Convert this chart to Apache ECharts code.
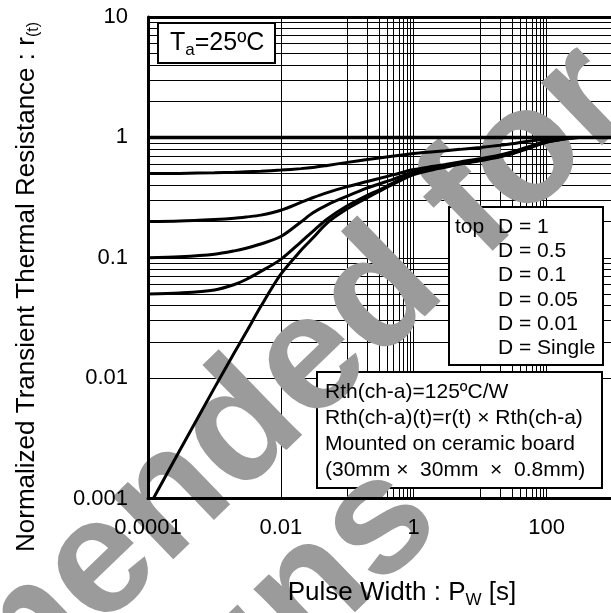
<!DOCTYPE html>
<html><head><meta charset="utf-8">
<script src="https://cdn.jsdelivr.net/npm/echarts@6/dist/echarts.min.js"></script>
<style>html,body{margin:0;padding:0;background:#fff}#c{width:611px;height:613px}</style>
</head><body><div id="c"></div>
<script>
// ---- data ----
const pulseWidth = [0.0001, 0.0003, 0.001, 0.002, 0.003, 0.005, 0.01, 0.02, 0.03, 0.05, 0.1, 0.2, 0.3, 0.5, 1, 2, 3, 5, 10, 20, 30, 50, 100, 200, 300, 1000];
const rD1     = [1,1,1,1,1,1,1,1,1,1,1,1,1,1,1,1,1,1,1,1,1,1,1,1,1,1];
const rD05    = [0.50, 0.502, 0.508, 0.513, 0.518, 0.524, 0.535, 0.55, 0.562, 0.585, 0.62, 0.655, 0.675, 0.70, 0.735, 0.76, 0.775, 0.795, 0.825, 0.86, 0.885, 0.925, 0.97, 1.0, 1.0, 1.0];
const rD01    = [0.20, 0.202, 0.208, 0.213, 0.218, 0.226, 0.248, 0.288, 0.315, 0.348, 0.39, 0.43, 0.455, 0.49, 0.54, 0.575, 0.595, 0.625, 0.665, 0.715, 0.755, 0.825, 0.93, 0.99, 1.0, 1.0];
const rD005   = [0.10, 0.102, 0.107, 0.114, 0.12, 0.13, 0.15, 0.198, 0.235, 0.275, 0.325, 0.38, 0.41, 0.45, 0.515, 0.56, 0.583, 0.612, 0.655, 0.705, 0.745, 0.82, 0.92, 0.985, 1.0, 1.0];
const rD001   = [0.05, 0.051, 0.054, 0.06, 0.066, 0.077, 0.097, 0.135, 0.165, 0.21, 0.27, 0.33, 0.365, 0.42, 0.50, 0.55, 0.575, 0.605, 0.645, 0.695, 0.735, 0.81, 0.915, 0.98, 1.0, 1.0];
const rSingle = [0.00083, 0.0025, 0.0083, 0.0163, 0.024, 0.0395, 0.073, 0.115, 0.145, 0.195, 0.255, 0.315, 0.355, 0.41, 0.49, 0.54, 0.565, 0.60, 0.64, 0.69, 0.73, 0.80, 0.91, 0.975, 1.0, 1.0];

const xTickLabels = ['0.0001', '0.01', '1', '100'];
const yTickLabels = ['0.001', '0.01', '0.1', '1', '10'];
const xGridValues = [0.001,0.002,0.003,0.004,0.005,0.006,0.007,0.008,0.009,0.01,
                     0.1,0.2,0.3,0.4,0.5,0.6,0.7,0.8,0.9,1,
                     10,20,30,40,50,60,70,80,90,100];
const yGridValues = [0.002,0.003,0.004,0.005,0.006,0.007,0.008,0.009,0.01,
                     0.02,0.03,0.04,0.05,0.06,0.07,0.08,0.09,0.1,
                     0.2,0.3,0.4,0.5,0.6,0.7,0.8,0.9,
                     2,3,4,5,6,7,8,9];
const legendHead = 'top';
const legendLines = ['D = 1', 'D = 0.5', 'D = 0.1', 'D = 0.05', 'D = 0.01', 'D = Single'];
const noteLines = ['Rth(ch-a)=125ºC/W', 'Rth(ch-a)(t)=r(t) × Rth(ch-a)', 'Mounted on ceramic board', '(30mm ×  30mm  ×  0.8mm)'];
const watermarkLines = ['Not Recommended for', 'New Designs'];

// ---- chart ----
const FONT = '"Liberation Sans", Arial, sans-serif';
function pairs(vals) { return pulseWidth.map((t, i) => [t, vals[i]]); }
function labelFor(list) {
  return function (v) {
    const e = Math.round(Math.log10(v));
    const s = list.find(l => Math.round(Math.log10(parseFloat(l))) === e);
    return s || '';
  };
}
function curve(name, vals, w) {
  return {
    name: name, type: 'line', data: pairs(vals), z: 5, symbol: 'none', showSymbol: false,
    smooth: 0.3, clip: true, silent: true,
    lineStyle: { color: '#000', width: w }, emphasis: { disabled: true }
  };
}
const chart = echarts.init(document.getElementById('c'), null, { renderer: 'canvas' });
const boxStyle = { fill: '#fff', stroke: '#000', lineWidth: 2 };
const wmFont = 'bold 165px "Liberation Sans", Arial, sans-serif';
chart.setOption({
  animation: false,
  backgroundColor: '#fff',
  grid: { left: 148, top: 17, width: 465, height: 481.5, containLabel: false, outerBoundsMode: 'none' },
  xAxis: {
    type: 'log', logBase: 10, min: 0.0001, max: 1000, z: 10,
    axisLine: { show: true, lineStyle: { color: '#000', width: 3 } },
    axisTick: { show: false }, splitLine: { show: false }, minorSplitLine: { show: false },
    axisLabel: { formatter: labelFor(xTickLabels), color: '#000', fontSize: 22, fontFamily: FONT, margin: 18, showMaxLabel: false, hideOverlap: false }
  },
  yAxis: {
    type: 'log', logBase: 10, min: 0.001, max: 10, z: 10,
    axisLine: { show: true, lineStyle: { color: '#000', width: 3 } },
    axisTick: { show: false }, splitLine: { show: false },
    axisLabel: { formatter: labelFor(yTickLabels), color: '#000', fontSize: 22, fontFamily: FONT, margin: 20, hideOverlap: false }
  },
  series: [
    {
      name: 'grid', type: 'line', data: [], z: 1, silent: true,
      markLine: {
        z: 1, silent: true, symbol: ['none', 'none'], animation: false,
        label: { show: false }, emphasis: { disabled: true },
        lineStyle: { color: '#000', width: 1, type: 'solid' },
        data: [
          ...xGridValues.map(v => ({ xAxis: v })),
          ...yGridValues.map(v => ({ yAxis: v })),
          { yAxis: 10, lineStyle: { color: '#000', width: 3, type: 'solid' } }
        ]
      }
    },
    curve('D = 1', rD1, 3.5),
    curve('D = 0.5', rD05, 3),
    curve('D = 0.1', rD01, 3),
    curve('D = 0.05', rD005, 3),
    curve('D = 0.01', rD001, 3),
    curve('D = Single', rSingle, 3)
  ],
  graphic: [
    { type: 'rect', z: 3, silent: true, shape: { x: 158, y: 23, width: 117, height: 40 }, style: boxStyle },
    { type: 'rect', z: 3, silent: true, shape: { x: 449, y: 207, width: 154, height: 158 }, style: boxStyle },
    { type: 'rect', z: 3, silent: true, shape: { x: 317, y: 372, width: 285, height: 116 }, style: boxStyle },
    { type: 'text', z: 4, silent: true, x: 608, y: 76, rotation: 0.768,
      style: { text: watermarkLines[0], font: wmFont, fill: '#9b9b9b', align: 'right', verticalAlign: 'middle', textAlign: 'right', textVerticalAlign: 'middle' } },
    { type: 'text', z: 4, silent: true, x: 413, y: 493, rotation: 0.768,
      style: { text: watermarkLines[1], font: wmFont, fill: '#9b9b9b', align: 'right', verticalAlign: 'middle', textAlign: 'right', textVerticalAlign: 'middle' } },
    { type: 'text', z: 12, silent: true, x: 170, y: 43,
      style: { text: '{n|T}{s|a}{n|=25ºC}', fill: '#000', align: 'left', verticalAlign: 'middle', textAlign: 'left', textVerticalAlign: 'middle',
        rich: { n: { fontSize: 25, fontFamily: FONT, fill: '#000' }, s: { fontSize: 17, fontFamily: FONT, fill: '#000', padding: [14, 0, 0, 0] } } } },
    { type: 'text', z: 12, silent: true, x: 455, y: 227,
      style: { text: legendHead, fill: '#000', font: '21px "Liberation Sans", Arial, sans-serif', align: 'left', verticalAlign: 'middle', textAlign: 'left', textVerticalAlign: 'middle' } },
    { type: 'text', z: 12, silent: true, x: 498, y: 227 + 2.5 * 24.3,
      style: { text: legendLines.join('\n'), fill: '#000', font: '21px "Liberation Sans", Arial, sans-serif', lineHeight: 24.3, align: 'left', verticalAlign: 'middle', textAlign: 'left', textVerticalAlign: 'middle' } },
    { type: 'text', z: 12, silent: true, x: 325, y: 392 + 1.5 * 26.1,
      style: { text: noteLines.join('\n'), fill: '#000', font: '21px "Liberation Sans", Arial, sans-serif', lineHeight: 26.1, align: 'left', verticalAlign: 'middle', textAlign: 'left', textVerticalAlign: 'middle' } },
    { type: 'text', z: 12, silent: true, x: 402, y: 593,
      style: { text: '{n|Pulse Width : P}{s|W}{n| [s]}', fill: '#000', align: 'center', verticalAlign: 'middle', textAlign: 'center', textVerticalAlign: 'middle',
        rich: { n: { fontSize: 26, fontFamily: FONT, fill: '#000' }, s: { fontSize: 17, fontFamily: FONT, fill: '#000', padding: [14, 0, 0, 0] } } } },
    { type: 'text', z: 12, silent: true, x: 27, y: 287, rotation: Math.PI / 2,
      style: { text: '{n|Normalized Transient Thermal Resistance : r}{s|(t)}', fill: '#000', align: 'center', verticalAlign: 'middle', textAlign: 'center', textVerticalAlign: 'middle',
        rich: { n: { fontSize: 26, fontFamily: FONT, fill: '#000' }, s: { fontSize: 16, fontFamily: FONT, fill: '#000', padding: [14, 0, 0, 0] } } } }
  ]
});
</script>
</body></html>
